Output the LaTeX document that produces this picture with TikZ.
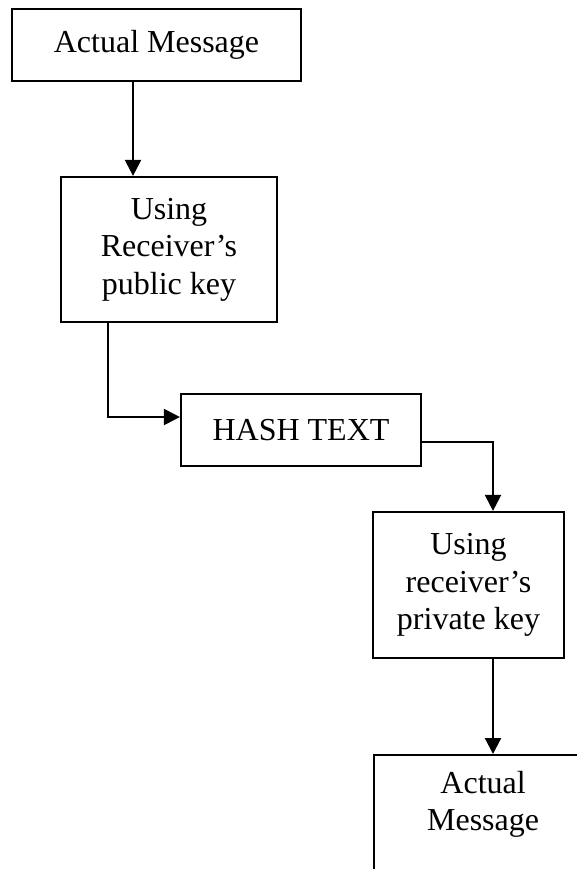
\documentclass[tikz,border=0pt]{standalone}
\usepackage{fontspec}
\setmainfont{Liberation Serif}
\usetikzlibrary{arrows.meta,positioning}

\begin{document}
\begin{tikzpicture}
				[x=1pt,y=-1pt,every node/.style={font=\fontsize{32}{37.5}\selectfont},
				box/.style={draw,line width=2.2pt,align=center,inner sep=0pt},
				edge/.style={-{Triangle[length=16pt,width=16pt]},line width=2.2pt}]
				\clip (0,0) rectangle (577,869);
				\node[box,minimum width=289pt,minimum height=72pt] (msg1) at (156.5,45) {Actual Message};
				\node[box,minimum width=216pt,minimum height=145pt] (pub) at (169,249.5) {Using\\Receiver’s\\public key};
				\node[box,minimum width=240pt,minimum height=72pt] (hash) at (301,430) {HASH TEXT};
				\node[box,minimum width=191pt,minimum height=146pt] (priv) at (468.5,585) {Using\\receiver’s\\private key};
				\node[box,minimum width=218pt,minimum height=200pt,anchor=north west] (msg2) at (373,754) {};
				\node[below=17pt of msg2.north,align=center,inner sep=0pt] (msg2txt) {Actual\\Message};
				
				\draw[edge] ([xshift=-23.5pt]msg1.south) -- ([xshift=-36pt]pub.north);
				\draw[edge] ([xshift=-61pt]pub.south) |- ([yshift=13pt]hash.west);
				\draw[edge] ([yshift=-12pt]hash.east) -| ([xshift=24.5pt]priv.north);
				\draw[edge] ([xshift=24.5pt]priv.south) -- ([xshift=120pt]msg2.north west);
				\end{tikzpicture}
\end{document}
